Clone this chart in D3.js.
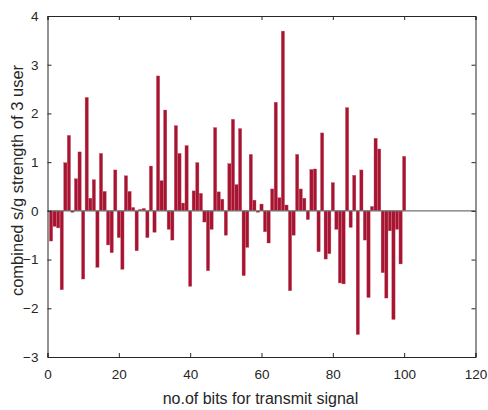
<!DOCTYPE html>
<html>
<head>
<meta charset="utf-8">
<script src="https://cdn.jsdelivr.net/npm/d3@7"></script>
<style>
  body { margin: 0; background: #fff; }
  svg { display: block; }
  text { font-family: "Liberation Sans", Arial, sans-serif; }
</style>
</head>
<body>
<div id="chart"></div>
<script>
const bitIndex = d3.range(1, 101);
const signalValues = [
  -0.62, -0.32, -0.35, -1.62, 0.99, 1.55, -0.03, 0.66, 1.21, -1.40,
  2.33, 0.26, 0.64, -1.16, 1.18, 0.40, -0.70, -0.86, 0.84, -0.55,
  -1.20, 0.72, 0.40, 0.07, -0.82, 0.03, 0.05, -0.55, 0.92, -0.44,
  2.77, 0.62, 2.07, -0.38, -0.60, 1.75, 1.18, 0.16, 1.34, -1.55,
  0.41, 0.99, 0.36, -0.23, -1.23, -0.38, 1.71, 0.39, 0.24, -0.50,
  0.97, 1.88, 0.54, 1.69, -1.33, -0.75, 1.16, 0.22, -0.03, 0.14,
  -0.43, -0.66, 0.45, 2.23, 0.27, 3.69, 0.12, -1.64, -0.50, 1.16,
  0.45, 0.26, -0.18, 0.85, 0.86, -0.84, 1.60, -0.99, -0.88, 0.58,
  -0.38, -1.48, -1.50, 2.12, -0.34, 0.73, -2.54, 0.84, -0.60, -1.78,
  0.09, 1.49, 1.27, -1.27, -1.79, -0.41, -2.23, -0.38, -1.09, 1.12
];
const xTicks = [0, 20, 40, 60, 80, 100, 120];
const yTicks = [-3, -2, -1, 0, 1, 2, 3, 4];
const xLabel = "no.of bits for transmit signal";
const yLabel = "combined s/g strength of 3 user";

const W = 488, H = 410;
const L = 47.5, R = 475.5, T = 16, B = 357;

const svg = d3.select("#chart").append("svg").attr("width", W).attr("height", H);

const x = d3.scaleLinear().domain([0, 120]).range([L, R]);
const y = d3.scaleLinear().domain([-3, 4]).range([B, T]);

const bw = (x(1) - x(0)) * 0.92;

// bars
svg.append("g").selectAll("rect")
  .data(bitIndex.map((b, i) => ({ b, v: signalValues[i] })))
  .join("rect")
  .attr("x", d => x(d.b) - bw / 2)
  .attr("width", bw)
  .attr("y", d => y(Math.max(0, d.v)))
  .attr("height", d => Math.abs(y(d.v) - y(0)))
  .attr("fill", "#a51430")
  .attr("stroke", "#c9566b")
  .attr("stroke-width", 0.35);

// baseline
svg.append("line")
  .attr("x1", L).attr("x2", R)
  .attr("y1", y(0)).attr("y2", y(0))
  .attr("stroke", "#707070").attr("stroke-width", 1.2);

const axisColor = "#262626";
// axes
const gx = svg.append("g").attr("transform", `translate(0,${B})`)
  .call(d3.axisBottom(x).tickValues(xTicks).tickSize(-4).tickPadding(12).tickFormat(d3.format("d")));
const gxt = svg.append("g").attr("transform", `translate(0,${T})`)
  .call(d3.axisTop(x).tickValues(xTicks).tickSize(-4).tickFormat(""));
const gy = svg.append("g").attr("transform", `translate(${L},0)`)
  .call(d3.axisLeft(y).tickValues(yTicks).tickSize(-4).tickPadding(9).tickFormat(d3.format("d")));
const gyr = svg.append("g").attr("transform", `translate(${R},0)`)
  .call(d3.axisRight(y).tickValues(yTicks).tickSize(-4).tickFormat(""));

[gx, gxt, gy, gyr].forEach(g => {
  g.select(".domain").attr("stroke", axisColor).attr("stroke-width", 1);
  g.selectAll(".tick line").attr("stroke", axisColor);
  g.selectAll("text").attr("fill", "#262626").style("font-size", "13.5px")
    .style("font-family", "'Liberation Sans', Arial, sans-serif");
});

// axis labels
svg.append("text")
  .attr("x", (L + R) / 2 - 1).attr("y", 404)
  .attr("text-anchor", "middle")
  .attr("fill", "#262626")
  .style("font-size", "16px")
  .text(xLabel);

svg.append("text")
  .attr("transform", `translate(23,${(T + B) / 2 - 6}) rotate(-90)`)
  .attr("text-anchor", "middle")
  .attr("fill", "#262626")
  .style("font-size", "16.5px")
  .text(yLabel);
</script>
</body>
</html>
